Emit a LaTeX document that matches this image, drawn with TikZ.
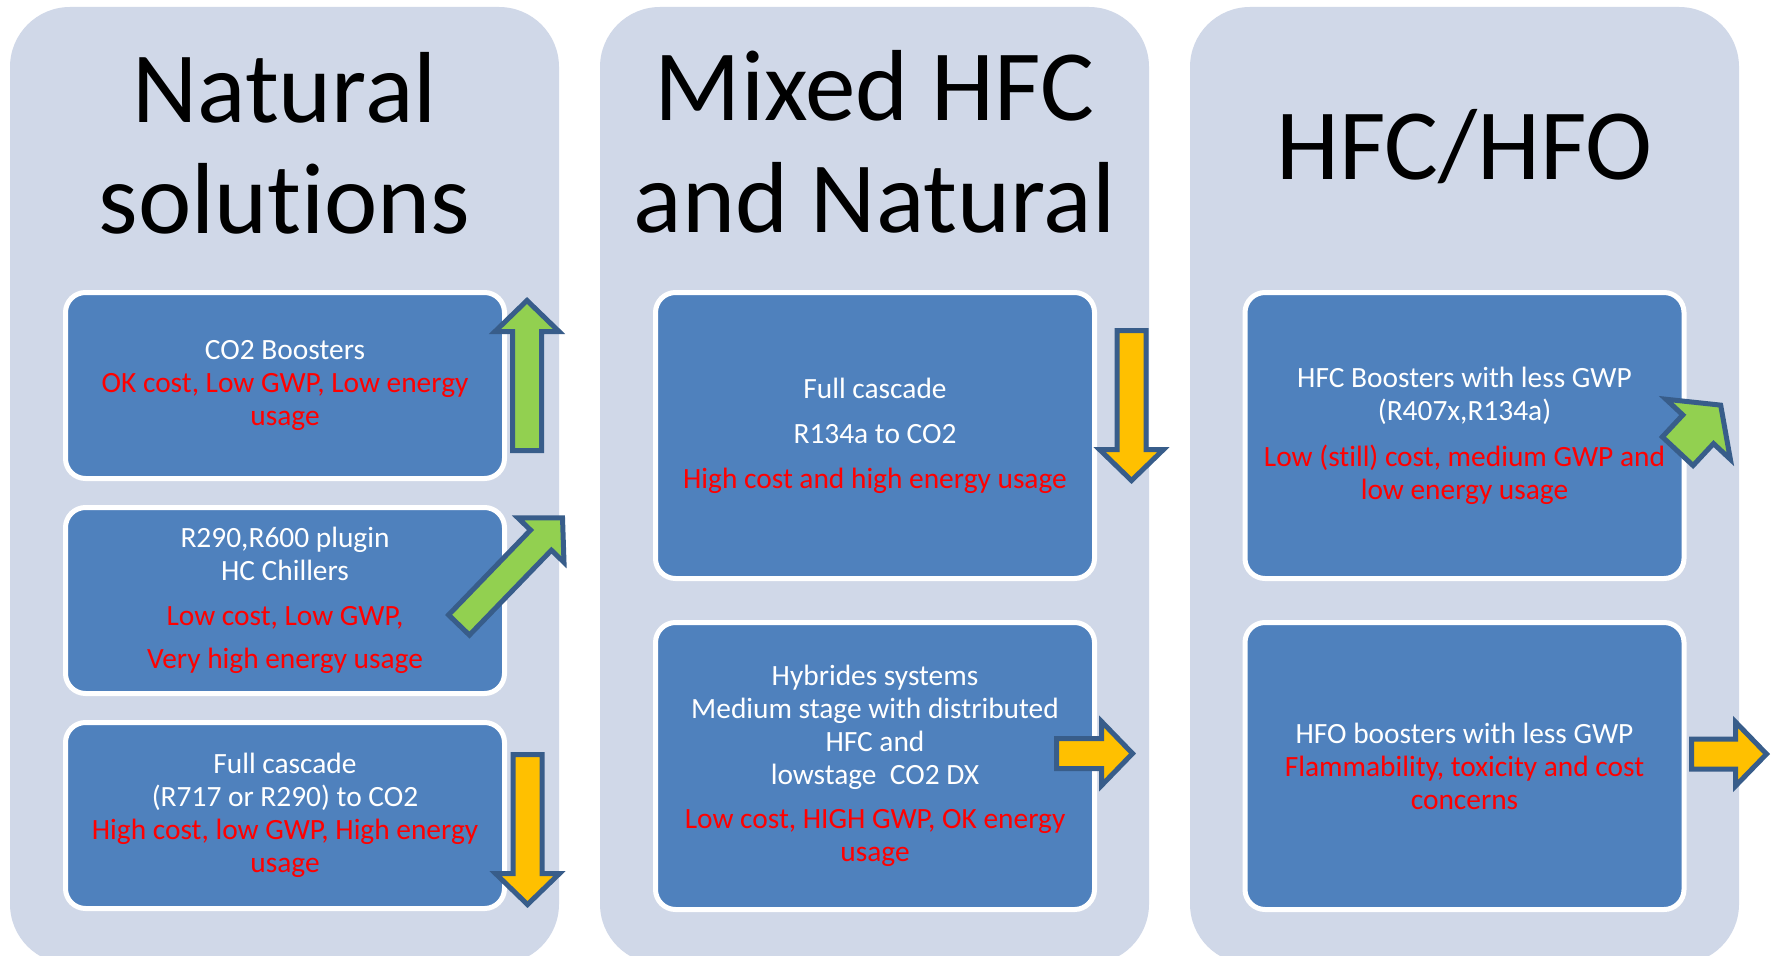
\documentclass[tikz,border=0pt]{standalone}
\usepackage{fontspec}
\setmainfont{Carlito}[Ligatures=NoCommon]
\definecolor{panelbg}{HTML}{D0D8E8}
\definecolor{boxblue}{HTML}{4F81BD}
\definecolor{arrowline}{HTML}{385D8A}
\definecolor{arrowgreen}{HTML}{92D050}
\definecolor{arrowyellow}{HTML}{FFC000}
\newcommand{\solarrow}[8]{\draw[barrow, fill=#8, shift={(#1,#2)}, rotate=#3] (0,#5) -- ({#4-#7},#5) -- ({#4-#7},#6) -- (#4,0) -- ({#4-#7},-#6) -- ({#4-#7},-#5) -- (0,-#5) -- cycle;}
\begin{document}
\begin{tikzpicture}[x=1pt,y=-1pt,
  panel/.style={rectangle, rounded corners=60pt, fill=panelbg, minimum width=549pt, minimum height=957pt, inner sep=0pt},
  solbox/.style={rectangle, rounded corners=20pt, fill=boxblue, draw=white, line width=5pt, minimum width=439pt, text=white, align=center, font=\fontsize{29.4}{33}\selectfont, inner sep=0pt},
  paneltitle/.style={font=\fontsize{101}{111}\selectfont, anchor=base, inner sep=0pt},
  barrow/.style={draw=arrowline, line width=5pt, line join=miter},
]
\useasboundingbox (0,0) rectangle (1776,955);
\clip (0,0) rectangle (1776,955);
\fill[white] (0,0) rectangle (1776,955);

% panels
\node[panel] (p1) at (284.5,485.5) {};
\node[panel] (p2) at (874.5,485.5) {};
\node[panel] (p3) at (1464.5,485.5) {};

% titles
\node[paneltitle] (t1a) at (284.5,122) {Natural};
\node[paneltitle] (t1b) at (284.5,233) {solutions};
\node[paneltitle] (t2a) at (874.5,121) {Mixed HFC};
\node[paneltitle] (t2b) at (874.5,232) {and Natural};
\node[paneltitle] (t3) at (1464.5,179) {HFC/HFO};

% panel 1 boxes
\node[solbox, minimum height=186pt] (b11) at (285,385.5) {CO2 Boosters\\
  \textcolor{red}{OK cost, Low GWP, Low energy}\\
  \textcolor{red}{usage}};
\node[solbox, minimum height=186pt] (b12) at (285,600.5) {R290,R600 plugin\\
  HC Chillers\\[12pt]
  \textcolor{red}{Low cost, Low GWP,}\\[10pt]
  \textcolor{red}{Very high energy usage}};
\node[solbox, minimum height=186pt] (b13) at (285,815.5) {Full cascade\\
  (R717 or R290) to CO2\\
  \textcolor{red}{High cost, low GWP, High energy}\\
  \textcolor{red}{usage}};

% panel 2 boxes
\node[solbox, minimum height=286pt] (b21) at (875,435.5) {Full cascade\\[12pt]
  R134a to CO2\\[12pt]
  \textcolor{red}{High cost and high energy usage}};
\node[solbox, minimum height=287pt] (b22) at (875,766) {Hybrides systems\\
  Medium stage with distributed\\
  HFC and\\
  lowstage~~CO2 DX\\[11pt]
  \textcolor{red}{Low cost, HIGH GWP, OK energy}\\
  \textcolor{red}{usage}};

% panel 3 boxes
\node[solbox, minimum height=286pt] (b31) at (1464.5,435.5) {HFC Boosters with less GWP\\
  (R407x,R134a)\\[13pt]
  \textcolor{red}{Low (still) cost, medium GWP and}\\
  \textcolor{red}{low energy usage}};
\node[solbox, minimum height=287pt] (b32) at (1464.5,766) {HFO boosters with less GWP\\
  \textcolor{red}{Flammability, toxicity and cost}\\
  \textcolor{red}{concerns}};

% block arrows
\solarrow{527}{450.5}{90}{150}{14.5}{32}{31}{arrowgreen}
\solarrow{459}{625}{46}{149}{14.5}{32}{31}{arrowgreen}
\solarrow{527.5}{754.5}{-90}{150}{14.5}{32}{31}{arrowyellow}
\solarrow{1131.5}{330.5}{-90}{150}{14.5}{32}{31}{arrowyellow}
\solarrow{1056.5}{753.5}{0}{76}{15}{32}{31}{arrowyellow}
\solarrow{1677.7}{451.2}{47}{63}{21}{44}{33}{arrowgreen}
\solarrow{1691.5}{754}{0}{75}{15}{32}{31}{arrowyellow}
\end{tikzpicture}
\end{document}
